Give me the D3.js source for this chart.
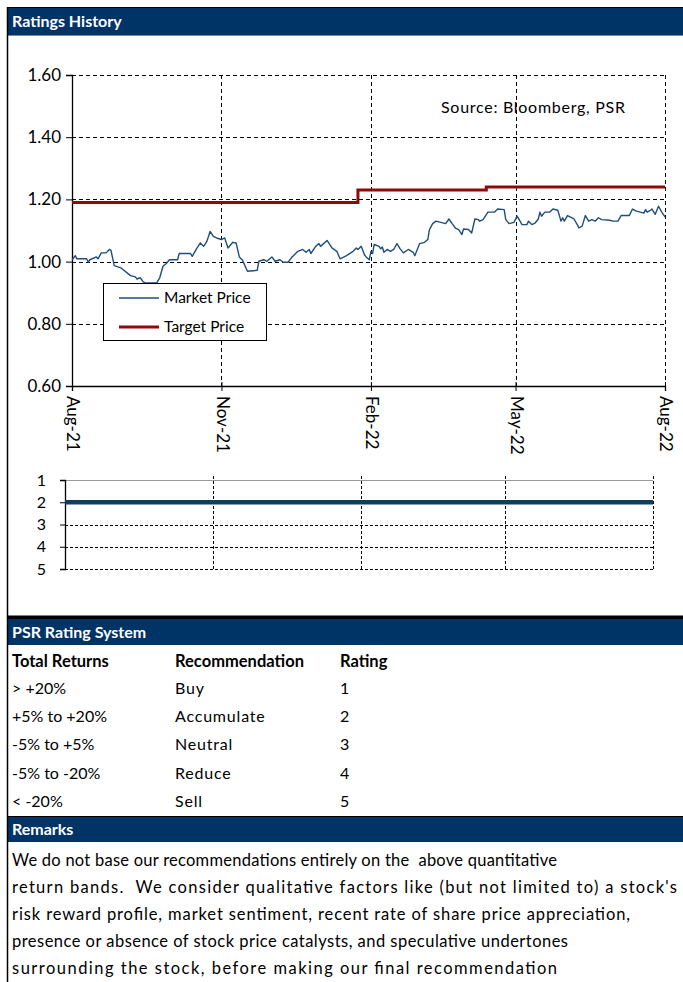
<!DOCTYPE html>
<html>
<head>
<meta charset="utf-8">
<script src="https://cdn.jsdelivr.net/npm/d3@7"></script>
<style>
  html, body { margin: 0; padding: 0; background: #fff; }
  svg { display: block; }
  text { font-family: Lato, "Open Sans", sans-serif; }
</style>
</head>
<body>
<div id="chart"></div>
<script>
// ---------------- DATA ----------------
const startDate = "2021-08-01";
const endDate = "2022-08-01";
const monthTicks = ["2021-08-01", "2021-11-01", "2022-02-01", "2022-05-01", "2022-08-01"];
const monthLabels = ["Aug-21", "Nov-21", "Feb-22", "May-22", "Aug-22"];
const priceTicks = [0.60, 0.80, 1.00, 1.20, 1.40, 1.60];

// market price: days after startDate and closing price
const marketDays = [0,2,3,9,10,11,15,16,18,21,23,24,26,30,36,39,40,42,44,46,52,54,56,58,60,65,66,73,74,77,79,81,83,85,87,89,92,94,96,99,101,103,105,108,114,115,118,120,123,125,128,130,133,135,139,142,144,146,147,150,152,153,157,160,163,165,169,173,175,176,178,180,181,183,184,185,186,189,190,191,192,194,196,198,200,202,204,207,210,211,214,217,219,220,222,224,227,230,232,234,236,238,240,241,244,246,248,250,251,253,256,260,262,266,267,269,272,274,277,280,281,283,285,287,288,289,291,294,296,299,301,302,303,305,309,311,312,314,316,318,320,322,324,326,331,333,336,338,343,345,347,352,353,354,356,357,359,361,363,365];
const marketPrice = [1.006,1.019,1.009,1.009,0.998,1.006,1.015,1.009,1.028,1.028,1.039,1.036,0.987,0.980,0.955,0.951,0.944,0.948,0.934,0.931,0.931,0.948,0.985,0.994,1.006,1.006,1.026,1.026,1.017,1.044,1.060,1.049,1.065,1.097,1.081,1.076,1.071,1.076,1.044,1.062,1.060,1.015,1.004,0.969,0.972,1.001,1.006,1.001,1.015,1.001,1.006,0.998,0.998,1.012,1.033,1.039,1.030,1.039,1.026,1.049,1.058,1.049,1.068,1.044,1.033,1.009,1.019,1.033,1.044,1.039,1.049,1.022,1.015,1.006,1.033,1.026,1.055,1.049,1.041,1.047,1.030,1.039,1.033,1.039,1.058,1.041,1.028,1.039,1.030,1.019,1.058,1.062,1.071,1.103,1.122,1.130,1.126,1.122,1.137,1.122,1.108,1.103,1.087,1.105,1.103,1.092,1.137,1.135,1.130,1.135,1.159,1.159,1.169,1.167,1.135,1.122,1.126,1.146,1.119,1.119,1.130,1.119,1.124,1.137,1.159,1.146,1.159,1.159,1.169,1.165,1.130,1.141,1.130,1.148,1.137,1.119,1.108,1.114,1.148,1.130,1.135,1.130,1.141,1.135,1.133,1.130,1.130,1.148,1.148,1.169,1.163,1.156,1.167,1.159,1.165,1.169,1.152,1.178,1.159,1.144];

const targetDates = ["2021-08-01", "2022-01-24", "2022-04-13", "2022-08-01"];
const targetPrice = [1.19, 1.23, 1.24, 1.24];

const ratingDates = ["2021-08-01", "2022-08-01"];
const ratingValues = [2, 2];
const ratingTicks = [1, 2, 3, 4, 5];

const seriesNames = ["Market Price", "Target Price"];
const sourceText = "Source: Bloomberg, PSR";

const tableHeader = ["Total Returns", "Recommendation", "Rating"];
const tableReturns = ["> +20%", "+5% to +20%", "-5% to +5%", "-5% to -20%", "< -20%"];
const tableRecs = ["Buy", "Accumulate", "Neutral", "Reduce", "Sell"];
const tableRatings = ["1", "2", "3", "4", "5"];

const remarksLines = [
  "We do not base our recommendations entirely on the  above quantitative",
  "return bands.  We consider qualitative factors like (but not limited to) a stock's",
  "risk reward profile, market sentiment, recent rate of share price appreciation,",
  "presence or absence of stock price catalysts, and speculative undertones",
  "surrounding the stock, before making our final recommendation"
];

// ---------------- DRAW ----------------
const W = 683, H = 982;
const NAVY = "#003366";
const FONT = "Lato, 'Open Sans', sans-serif";
const parse = d3.timeParse("%Y-%m-%d");
const t0 = parse(startDate), t1 = parse(endDate);

const svg = d3.select("#chart").append("svg").attr("width", W).attr("height", H);
svg.append("rect").attr("width", W).attr("height", H).attr("fill", "#fff");

function bar(y, h, label) {
  svg.append("rect").attr("x", 8).attr("y", y).attr("width", W - 8).attr("height", h).attr("fill", NAVY);
  svg.append("text").attr("x", 12).attr("y", y + h / 2 + 5.5).attr("fill", "#fff")
    .attr("font-size", 16).attr("font-weight", "bold").text(label);
}

// top border + header
svg.append("line").attr("x1", 8).attr("x2", W).attr("y1", 7.5).attr("y2", 7.5).attr("stroke", "#000").attr("stroke-width", 1);
bar(8, 27, "Ratings History");
svg.append("line").attr("x1", 8).attr("x2", W).attr("y1", 35.5).attr("y2", 35.5).attr("stroke", "#888").attr("stroke-width", 1);

// ----- main price chart -----
const x = d3.scaleTime().domain([t0, t1]).range([72, 665]);
const y = d3.scaleLinear().domain([0.6, 1.6]).range([386, 75]);
const dash = "4,3";
const g = svg.append("g");

g.selectAll(".hg").data(priceTicks.filter(v => v > 0.6)).enter().append("line")
  .attr("x1", x(t0)).attr("x2", x(t1))
  .attr("y1", d => Math.round(y(d)) + 0.5).attr("y2", d => Math.round(y(d)) + 0.5)
  .attr("stroke", "#000").attr("stroke-dasharray", dash).attr("stroke-width", 1);
g.selectAll(".vg").data(monthTicks.slice(1)).enter().append("line")
  .attr("x1", d => Math.round(x(parse(d))) + 0.5).attr("x2", d => Math.round(x(parse(d))) + 0.5)
  .attr("y1", y(1.6)).attr("y2", y(0.6))
  .attr("stroke", "#000").attr("stroke-dasharray", dash).attr("stroke-width", 1);

const yAxis = d3.axisLeft(y).tickValues(priceTicks).tickFormat(d3.format(".2f")).tickSize(6).tickPadding(5);
const yg = g.append("g").attr("transform", `translate(${x(t0)},0)`).call(yAxis);
yg.selectAll("text").attr("font-size", 17).attr("fill", "#000").style("font-family", FONT);
yg.selectAll("line").attr("stroke", "#000");
yg.select(".domain").attr("stroke", "#000").attr("stroke-width", 1.3);

const xAxis = d3.axisBottom(x).tickValues(monthTicks.map(parse)).tickFormat((d, i) => monthLabels[i]).tickSize(5).tickPadding(6);
const xg = g.append("g").attr("transform", `translate(0,${y(0.6)})`).call(xAxis);
xg.select(".domain").attr("stroke", "#000").attr("stroke-width", 1.3);
xg.selectAll(".tick line").attr("stroke", "#000").attr("y1", -4);
xg.selectAll("text").attr("font-size", 17).attr("fill", "#000")
  .style("font-family", FONT)
  .attr("text-anchor", "start").attr("dy", "0.32em")
  .attr("transform", "rotate(90) translate(10,0)").attr("x", 0).attr("y", 0);

const marketData = marketDays.map((d, i) => ({ date: d3.timeDay.offset(t0, d), v: marketPrice[i] }));
const targetData = targetDates.map((d, i) => ({ date: parse(d), v: targetPrice[i] }));

g.append("path").datum(targetData)
  .attr("d", d3.line().x(d => x(d.date)).y(d => y(d.v)).curve(d3.curveStepAfter))
  .attr("fill", "none").attr("stroke", "#8f0a0a").attr("stroke-width", 3);
g.append("path").datum(marketData)
  .attr("d", d3.line().x(d => x(d.date)).y(d => y(d.v)))
  .attr("fill", "none").attr("stroke", "#1f4e7d").attr("stroke-width", 1.4).attr("stroke-linejoin", "round");

g.append("text").attr("x", 441).attr("y", 113).attr("font-size", 16).attr("fill", "#000")
  .attr("textLength", 184).attr("lengthAdjust", "spacing").text(sourceText);

// legend
const lg = g.append("g");
lg.append("rect").attr("x", 103.5).attr("y", 283.5).attr("width", 163).attr("height", 57)
  .attr("fill", "#fff").attr("stroke", "#000").attr("stroke-width", 1);
const legColors = ["#1f4e7d", "#8f0a0a"], legW = [1.4, 3];
seriesNames.forEach((n, i) => {
  const ly = 298 + i * 29;
  lg.append("line").attr("x1", 119).attr("x2", 159).attr("y1", ly).attr("y2", ly)
    .attr("stroke", legColors[i]).attr("stroke-width", legW[i]);
  lg.append("text").attr("x", 164).attr("y", ly + 5).attr("font-size", 15.5).attr("fill", "#000").text(n);
});

// ----- rating chart -----
const xr = d3.scaleTime().domain([t0, t1]).range([65, 653]);
const yr = d3.scaleLinear().domain([1, 5]).range([480, 569]);
const rg = svg.append("g");
rg.selectAll(".rh").data(ratingTicks).enter().append("line")
  .attr("x1", xr(t0)).attr("x2", xr(t1))
  .attr("y1", d => Math.round(yr(d)) + 0.5).attr("y2", d => Math.round(yr(d)) + 0.5)
  .attr("stroke", d => d === 1 ? "#9a9a9a" : "#000")
  .attr("stroke-dasharray", d => d === 1 ? null : "3,2").attr("stroke-width", 1);
rg.selectAll(".rv").data(monthTicks.slice(1)).enter().append("line")
  .attr("x1", d => Math.round(xr(parse(d))) + 0.5).attr("x2", d => Math.round(xr(parse(d))) + 0.5)
  .attr("y1", yr(1) - 4).attr("y2", yr(5))
  .attr("stroke", "#000").attr("stroke-dasharray", "3,2").attr("stroke-width", 1);
const ryAxis = d3.axisLeft(yr).tickValues(ratingTicks).tickFormat(d3.format("d")).tickSize(5).tickPadding(14);
const ryg = rg.append("g").attr("transform", `translate(${xr(t0)},0)`).call(ryAxis);
ryg.select(".domain").attr("stroke", "#000").attr("stroke-width", 1.3);
ryg.selectAll("line").attr("stroke", "#000");
ryg.selectAll("text").attr("font-size", 16).attr("fill", "#000").style("font-family", FONT);
const ratingData = ratingDates.map((d, i) => ({ date: parse(d), v: ratingValues[i] }));
rg.append("path").datum(ratingData)
  .attr("d", d3.line().x(d => xr(d.date)).y(d => yr(d.v)))
  .attr("fill", "none").attr("stroke", "#0f3f5c").attr("stroke-width", 4.5);

// ----- PSR rating system table -----
svg.append("rect").attr("x", 8).attr("y", 615.5).attr("width", W - 8).attr("height", 3.5).attr("fill", "#000");
bar(619, 26, "PSR Rating System");
const colX = [12, 175, 340];
tableHeader.forEach((h, i) => {
  svg.append("text").attr("x", colX[i]).attr("y", 666.5).attr("font-size", 16.5).attr("font-weight", "bold").attr("fill", "#000").text(h);
});
tableReturns.forEach((r, i) => {
  const ty = 694 + i * 28.2;
  [r, tableRecs[i], tableRatings[i]].forEach((v, j) => {
    svg.append("text").attr("x", colX[j]).attr("y", ty).attr("font-size", 16).attr("fill", "#000")
      .style("letter-spacing", j === 1 ? "0.8px" : "0px").text(v);
  });
});

// ----- Remarks -----
svg.append("line").attr("x1", 8).attr("x2", W).attr("y1", 816.5).attr("y2", 816.5).attr("stroke", "#000");
bar(817, 25, "Remarks");
const remarkWidths = [545, 665, 618, 556, 545];
remarksLines.forEach((l, i) => {
  svg.append("text").attr("x", 12).attr("y", 866 + i * 27).attr("font-size", 16.5).attr("fill", "#000")
    .style("white-space", "pre")
    .attr("textLength", remarkWidths[i]).attr("lengthAdjust", "spacing")
    .text(l);
});

// left border
svg.append("line").attr("x1", 7.5).attr("x2", 7.5).attr("y1", 7).attr("y2", H).attr("stroke", "#000").attr("stroke-width", 1.5);
</script>
</body>
</html>
